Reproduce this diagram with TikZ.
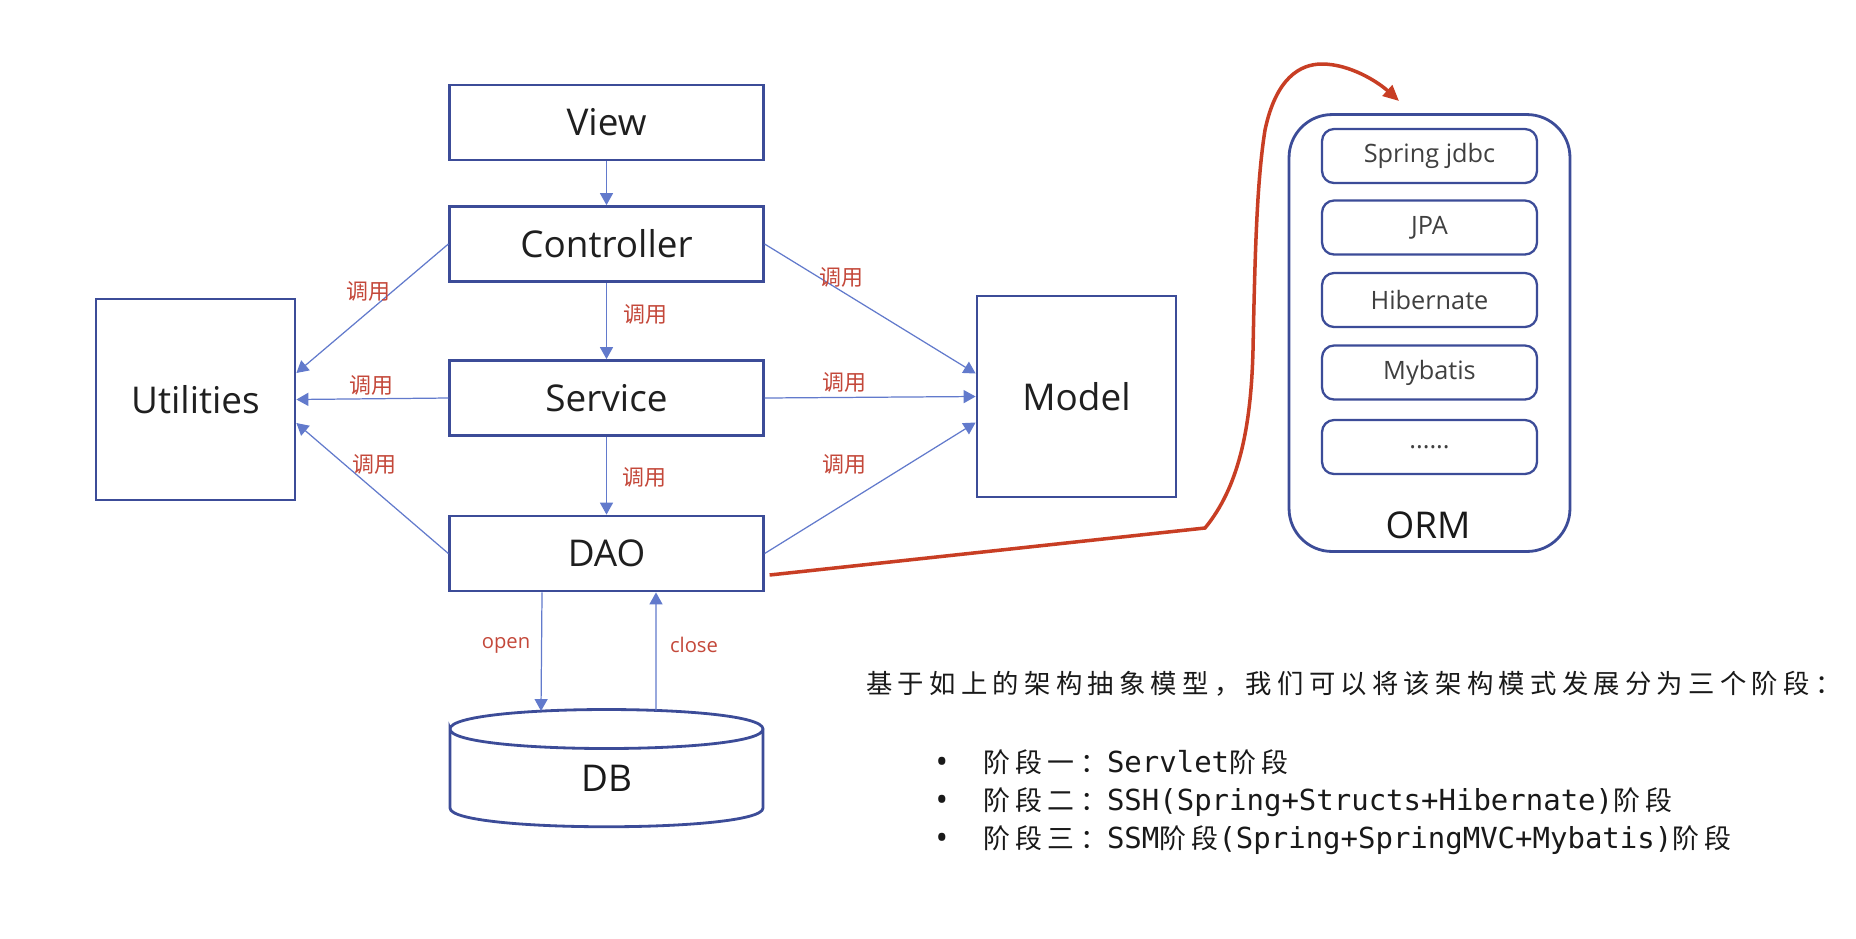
\documentclass[tikz,border=0pt]{standalone}
\usepackage{fontspec}
\setmainfont{Open Sans}
\newfontfamily\cjk{Noto Sans CJK SC}
\newfontfamily\cjkls[LetterSpace=20]{Noto Sans CJK SC}
\newfontfamily\mono{DejaVu Sans Mono}
\usetikzlibrary{arrows.meta,calc}
\definecolor{boxblue}{RGB}{60,76,152}
\definecolor{lineblue}{RGB}{98,122,204}
\definecolor{curvered}{RGB}{200,62,36}
\definecolor{labelred}{RGB}{196,72,58}
\definecolor{txtgray}{RGB}{64,64,64}
\newcommand{\cjkb}{\cjkls\fontsize{15.3pt}{17pt}\selectfont}
\newcommand{\monob}{\mono\fontsize{16.5pt}{18pt}\selectfont}
\begin{document}
\begin{tikzpicture}[x=0.02cm,y=-0.02cm,
  layer/.style={draw=boxblue,line width=1.6pt,minimum width=6.27cm,minimum height=1.5cm,inner sep=0pt,
    font=\fontsize{21pt}{23pt}\selectfont,text=black!88},
  bigbox/.style={draw=boxblue,line width=1.6pt,minimum width=3.98cm,minimum height=4.02cm,inner sep=0pt,
    font=\fontsize{21pt}{23pt}\selectfont,text=black!88},
  ormitem/.style={draw=boxblue,line width=1.3pt,rounded corners=0.24cm,minimum width=4.3cm,minimum height=1.08cm,
    inner sep=0pt,font=\fontsize{14.4pt}{16pt}\selectfont,text=txtgray},
  call/.style={draw=lineblue,line width=0.7pt,-{Triangle[length=6.8pt,width=7.4pt]}},
  lbl/.style={font=\cjk\fontsize{12.5pt}{14pt}\selectfont,text=labelred,inner sep=0pt},
  lbllat/.style={font=\fontsize{11.5pt}{13pt}\selectfont,text=labelred,inner sep=0pt},
  plain/.style={inner sep=0pt,text=black!90},
  dot/.style={inner sep=0pt,text=black!90,anchor=base,font=\fontsize{19pt}{19pt}\selectfont},
]
\path[fill=white,use as bounding box] (0,0) rectangle (1856,938);

% layers
\node[layer] (view) at (606.5,122.5) {View};
\node[layer] (ctrl) at (606.5,244) {Controller};
\node[layer] (svc) at (606.5,398) {Service};
\node[layer] (dao) at (606.5,553.5) {DAO};
\node[bigbox] (util) at (195.5,399.5) {Utilities};
\node[bigbox] (model) at (1076.5,396.5) {Model};

% DB cylinder
\draw[boxblue,line width=1.6pt] (450,729) .. controls (450,703) and (763,703) .. (763,729)
  .. controls (763,755) and (450,755) .. (450,729) -- (450,808)
  .. controls (450,833) and (763,833) .. (763,808) -- (763,729);
\node[plain,font=\fontsize{21pt}{23pt}\selectfont] (db) at (606.5,778) {DB};
\coordinate (dbopen) at (541,711);
\coordinate (dbclose) at (656,710.5);

% ORM
\node[draw=boxblue,line width=1.6pt,rounded corners=0.86cm,minimum width=5.62cm,minimum height=8.74cm] (orm) at (1429.5,333) {};
\node[plain,font=\fontsize{21pt}{23pt}\selectfont] (ormlbl) at (1428,525) {ORM};
\node[ormitem] (o1) at (1429.5,156) {Spring jdbc};
\node[ormitem] (o2) at (1429.5,227.5) {JPA};
\node[ormitem] (o3) at (1429.5,300) {Hibernate};
\node[ormitem] (o4) at (1429.5,372.5) {Mybatis};
\node[ormitem] (o5) at (1429.5,447) {......};
\coordinate (ormin) at (1399,101);

% connectors
\draw[call] (view) -- (ctrl);
\draw[call] (ctrl) -- (svc);
\draw[call] (svc) -- (dao);
\draw[call] (ctrl.west) -- ([yshift=0.53cm]util.east);
\draw[call] (svc.west) -- (util.east);
\draw[call] (dao.west) -- ([yshift=-0.47cm]util.east);
\draw[call] (ctrl.east) -- ([yshift=0.46cm]model.west);
\draw[call] (svc.east) -- (model.west);
\draw[call] (dao.east) -- ([yshift=-0.52cm]model.west);
\draw[call] ([xshift=-1.29cm]dao.south) -- (dbopen);
\draw[call] (dbclose) -- ([xshift=0.99cm]dao.south);

\draw[curvered,line width=2pt,-{Triangle[length=9pt,width=8pt]}]
  ([xshift=0.1cm,yshift=-0.43cm]dao.east) -- (1205,528)
  .. controls (1238,488) and (1251,430) .. (1253,350)
  .. controls (1255,250) and (1257,180) .. (1265,130)
  .. controls (1276,78) and (1300,64) .. (1322,64)
  .. controls (1350,64) and (1378,82) .. (ormin);

% labels
\node[lbl] (l1) at (368,291) {调用};
\node[lbl] (l2) at (371,385) {调用};
\node[lbl] (l3) at (374,464) {调用};
\node[lbl] (l4) at (645,314) {调用};
\node[lbl] (l5) at (644,477) {调用};
\node[lbl] (l6) at (841,277) {调用};
\node[lbl] (l7) at (844,382) {调用};
\node[lbl] (l8) at (844,464) {调用};
\node[lbllat] (lo) at (506,645) {open};
\node[lbllat] (lc) at (694,645) {close};

% text
\node[plain,anchor=base west,font=\cjkls\fontsize{15pt}{17pt}\selectfont] (head) at (866,693)
  {基于如上的架构抽象模型，我们可以将该架构模式发展分为三个阶段：};
\node[dot] (d1) at (942,773) {•};
\node[dot] (d2) at (942,811) {•};
\node[dot] (d3) at (942,849) {•};
\node[plain,anchor=base west] (b1) at (983,772) {{\cjkb 阶段一：}{\monob Servlet}{\cjkb 阶段}};
\node[plain,anchor=base west] (b2) at (983,810) {{\cjkb 阶段二：}{\monob SSH(Spring+Structs+Hibernate)}{\cjkb 阶段}};
\node[plain,anchor=base west] (b3) at (983,848) {{\cjkb 阶段三：}{\monob SSM}{\cjkb 阶段}{\monob (Spring+SpringMVC+Mybatis)}{\cjkb 阶段}};
\end{tikzpicture}
\end{document}
